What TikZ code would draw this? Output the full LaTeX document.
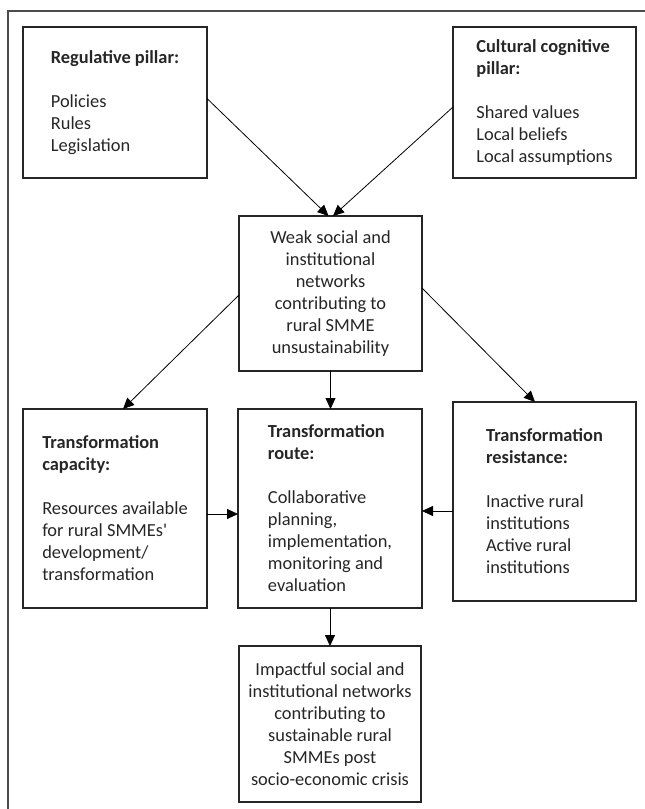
\documentclass[tikz,border=0pt]{standalone}
\usepackage{fontspec}
\setmainfont{Carlito}
\usepackage{tikz}
\usetikzlibrary{arrows.meta, positioning, calc}
\colorlet{boxline}{black!85}
\colorlet{frameline}{black!70}

\begin{document}
\begin{tikzpicture}[x=1pt, y=-1pt,
    box/.style={draw=boxline, line width=1.1pt, inner sep=0pt, outer sep=0pt,
      font=\fontsize{18.4}{22}\selectfont, text=black!85},
    leftbox/.style={box, align=left},
    midbox/.style={box, align=center},
    link/.style={-{Triangle[length=11pt, width=10pt]}, line width=0.8pt, black}]
    \useasboundingbox (0,0) rectangle (645,809);
    % frame (only top and left edge are shown)
    \draw[frameline, line width=1.2pt] (645,11) -- (8,11) -- (8,809);

    \node[leftbox, minimum width=184, minimum height=151] (reg) at (115,102.5)
      {\textbf{Regulative pillar:}\\[22pt]Policies\\Rules\\Legislation};
    \node[leftbox, minimum width=183, minimum height=151] (cult) at (544.5,102.5)
      {\textbf{Cultural cognitive}\\\textbf{pillar:}\\[22pt]Shared values\\Local beliefs\\Local assumptions};
    \node[midbox, minimum width=183, minimum height=155] (weak) at (330.5,293.5)
      {Weak social and\\institutional\\networks\\contributing to\\rural SMME\\unsustainability};
    \node[leftbox, minimum width=184, minimum height=199] (cap) at (115,508.5)
      {\textbf{Transformation}\\\textbf{capacity:}\\[22pt]Resources available\\for rural SMMEs\textquotesingle\\development/\\transformation};
    \node[leftbox, minimum width=184, minimum height=199] (route) at (330,508.5)
      {\textbf{Transformation}\\\textbf{route:}\\[22pt]Collaborative\\planning,\\implementation,\\monitoring and\\evaluation};
    \node[leftbox, minimum width=183, minimum height=199] (res) at (544.5,501.5)
      {\textbf{Transformation}\\\textbf{resistance:}\\[22pt]Inactive rural\\institutions\\Active rural\\institutions};
    \node[midbox, minimum width=182, minimum height=156] (impact) at (330,724)
      {Impactful social and\\institutional networks\\contributing to\\sustainable rural\\SMMEs post\\socio-economic crisis};

    \draw[link] ([yshift=4pt]reg.east) -- ([xshift=-2pt]weak.north);
    \draw[link] ([yshift=-4.5pt]cult.west) -- ([xshift=2.5pt]weak.north);
    \draw[link] ([yshift=-1.5pt]weak.west) -- ([xshift=8pt]cap.north);
    \draw[link] ([yshift=5.5pt]weak.east) -- ([xshift=-9.5pt]res.north);
    \draw[link] (weak.south) -- (weak.south |- route.north);
    \draw[link] ([yshift=-5.5pt]cap.east) -- ([yshift=-5.5pt]cap.east -| route.west);
    \draw[link] ([yshift=-9.5pt]res.west) -- ([yshift=-9.5pt]res.west -| route.east);
    \draw[link] (route.south) -- (impact.north);
  \end{tikzpicture}
\end{document}
